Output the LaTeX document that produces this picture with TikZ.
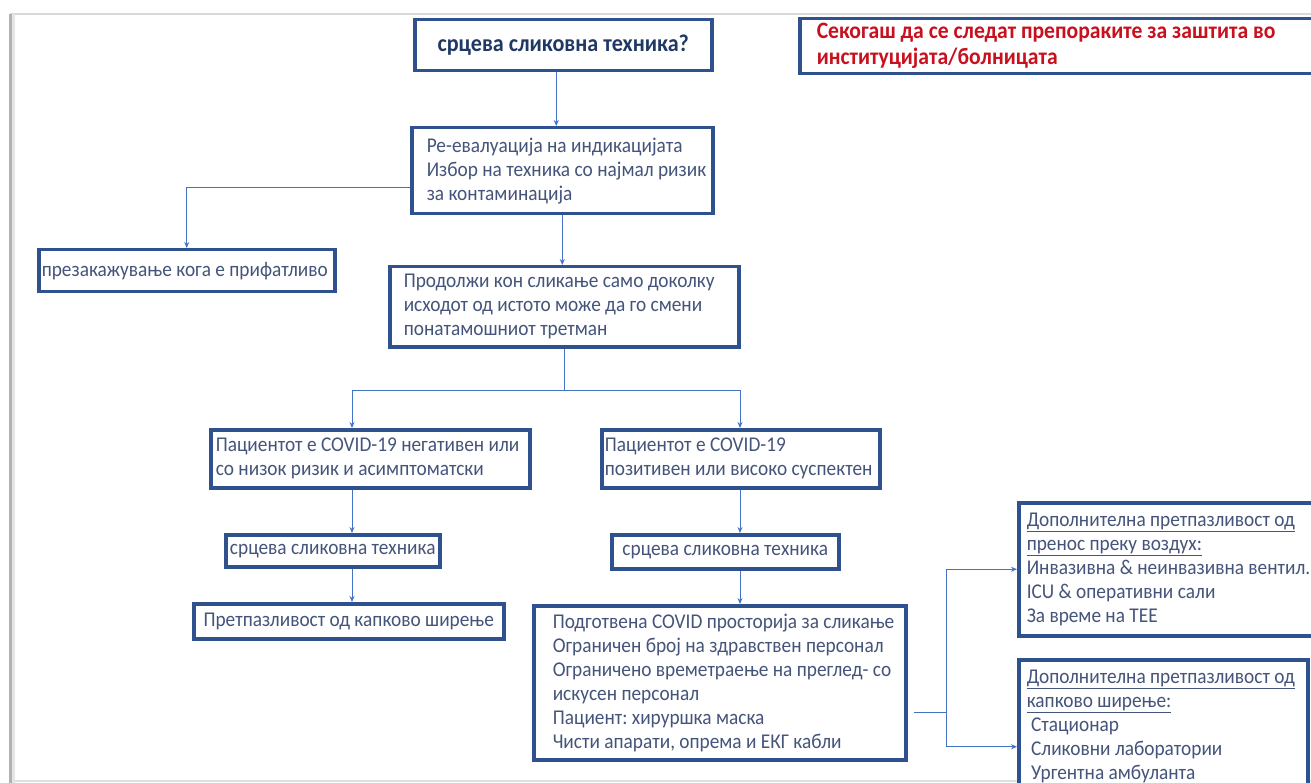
\documentclass[tikz,border=0pt]{standalone}
\usepackage{fontspec}
\setmainfont{Carlito}[FakeStretch=0.92]
\usetikzlibrary{arrows.meta,positioning}
\frenchspacing

\definecolor{boxblue}{RGB}{47,82,143}
\definecolor{txtblue}{RGB}{68,84,122}
\definecolor{arrblue}{RGB}{68,114,196}
\definecolor{headnavy}{RGB}{31,56,100}
\definecolor{warnred}{RGB}{200,16,30}

\tikzset{
  box/.style={draw=boxblue, line width=3.5pt, fill=white, text=txtblue,
    anchor=north west, align=flush left, inner xsep=3pt, inner ysep=0pt,
    font=\fontsize{21}{24}\selectfont},
  lpad/.style={execute at begin node=\setlength{\leftskip}{#1}},
  arr/.style={draw=arrblue, line width=0.9pt, -{Stealth[length=6pt,width=5pt]}},
  link/.style={draw=arrblue, line width=0.9pt}
}

\begin{document}
\begin{tikzpicture}[x=1pt,y=-1pt]
\useasboundingbox (0,0) rectangle (1311,783);

%%Frame
\draw[gray!30, line width=2pt] (10,14) -- (1311,14);
\draw[gray!25, line width=2pt] (10,781) -- (1311,781);
\draw[gray!60, line width=3pt] (10,14) -- (10,783);
\draw[gray!20, line width=3pt] (13,14) -- (13,783);

%%Boxes
\node[box, minimum width=297pt, minimum height=51pt, text width=287pt, align=flush center,
  text=headnavy, font=\fontsize{24}{26}\selectfont\bfseries] (title) at (413,18) {срцева сликовна техника?};
\node[box, minimum width=515pt, minimum height=55pt, text width=505pt, lpad=12pt,
  text=warnred, font=\fontsize{23.5}{26}\selectfont\bfseries] (warn) at (798,17)
  {Секогаш да се следат препораките за заштита во\\институцијата/болницата};

\node[box, minimum width=301pt, minimum height=86pt, text width=291pt, lpad=10pt] (eval) at (410,126)
  {Ре-евалуација на индикацијата\\Избор на техника со најмал ризик\\за контаминација};
\node[box, minimum width=296pt, minimum height=42pt, text width=290pt] (resched) at (37,248)
  {презакажување кога е прифатливо};
\node[box, minimum width=349pt, minimum height=80pt, text width=339pt, lpad=9pt] (proceed) at (388,265)
  {Продолжи кон сликање само доколку\\исходот од истото може да го смени\\понатамошниот третман};

\node[box, minimum width=319pt, minimum height=58pt, text width=311pt, lpad=1pt] (neg) at (209,428)
  {Пациентот е COVID-19 негативен или\\со низок ризик и асимптоматски};
\node[box, minimum width=278pt, minimum height=58pt, text width=272pt] (pos) at (600,428)
  {Пациентот е COVID-19\\позитивен или високо суспектен};

\node[box, minimum width=214pt, minimum height=32pt, align=center] (imgA) at (224,533)
  {срцева сликовна техника};
\node[box, minimum width=227pt, minimum height=34pt, align=center] (imgB) at (610,533)
  {срцева сликовна техника};
\node[box, minimum width=310pt, minimum height=35pt, align=center] (drop) at (192,602)
  {Претпазливост од капково ширење};

\node[box, minimum width=372pt, minimum height=154pt, text width=362pt, lpad=14pt] (prep) at (532,604)
  {Подготвена COVID просторија за сликање\\Ограничен број на здравствен персонал\\Ограничено времетраење на преглед- со\\искусен персонал\\Пациент: хируршка маска\\Чисти апарати, опрема и ЕКГ кабли};

\node[box, minimum width=305pt, minimum height=133pt, text width=299pt, lpad=5pt] (air) at (1017,501)
  {\underline{Дополнителна претпазливост од}\\\underline{пренос преку воздух:}\\Инвазивна \& неинвазивна вентил.\\ICU \& оперативни сали\\За време на ТЕЕ};
\node[box, minimum width=289pt, minimum height=134pt, text width=283pt, lpad=5pt] (drip) at (1017,658)
  {\underline{Дополнителна претпазливост од}\\\underline{капково ширење:}\\\ Стационар\\\ Сликовни лаборатории\\\ Ургентна амбуланта};

%%Connectors
\coordinate (colA) at (352,0);
\coordinate (colB) at (740,0);
\coordinate (split) at ([yshift=-42pt]proceed.south);
\coordinate (fork) at (946,712);

\draw[arr] ([xshift=-7pt]title.south) -- ([xshift=-7pt]title.south |- eval.north);
\draw[arr] ([yshift=-17pt]eval.west) -| (resched.north);
\draw[arr] (eval.south) -- (eval.south |- proceed.north);
\draw[link] (proceed.south) -- (split);
\draw[arr] (split) -| (neg.north -| colA);
\draw[arr] (split) -| (pos.north -| colB);
\draw[arr] (neg.south -| colA) -- (imgA.north -| colA);
\draw[arr] (imgA.south -| colA) -- (drop.north -| colA);
\draw[arr] (pos.south -| colB) -- (imgB.north -| colB);
\draw[arr] (imgB.south -| colB) -- (prep.north -| colB);
\draw[link] ([xshift=6pt]prep.east |- fork) -- (fork);
\draw[arr] (fork) |- (air.west);
\draw[arr] (fork) |- ([yshift=-20pt]drip.west);

\end{tikzpicture}
\end{document}
